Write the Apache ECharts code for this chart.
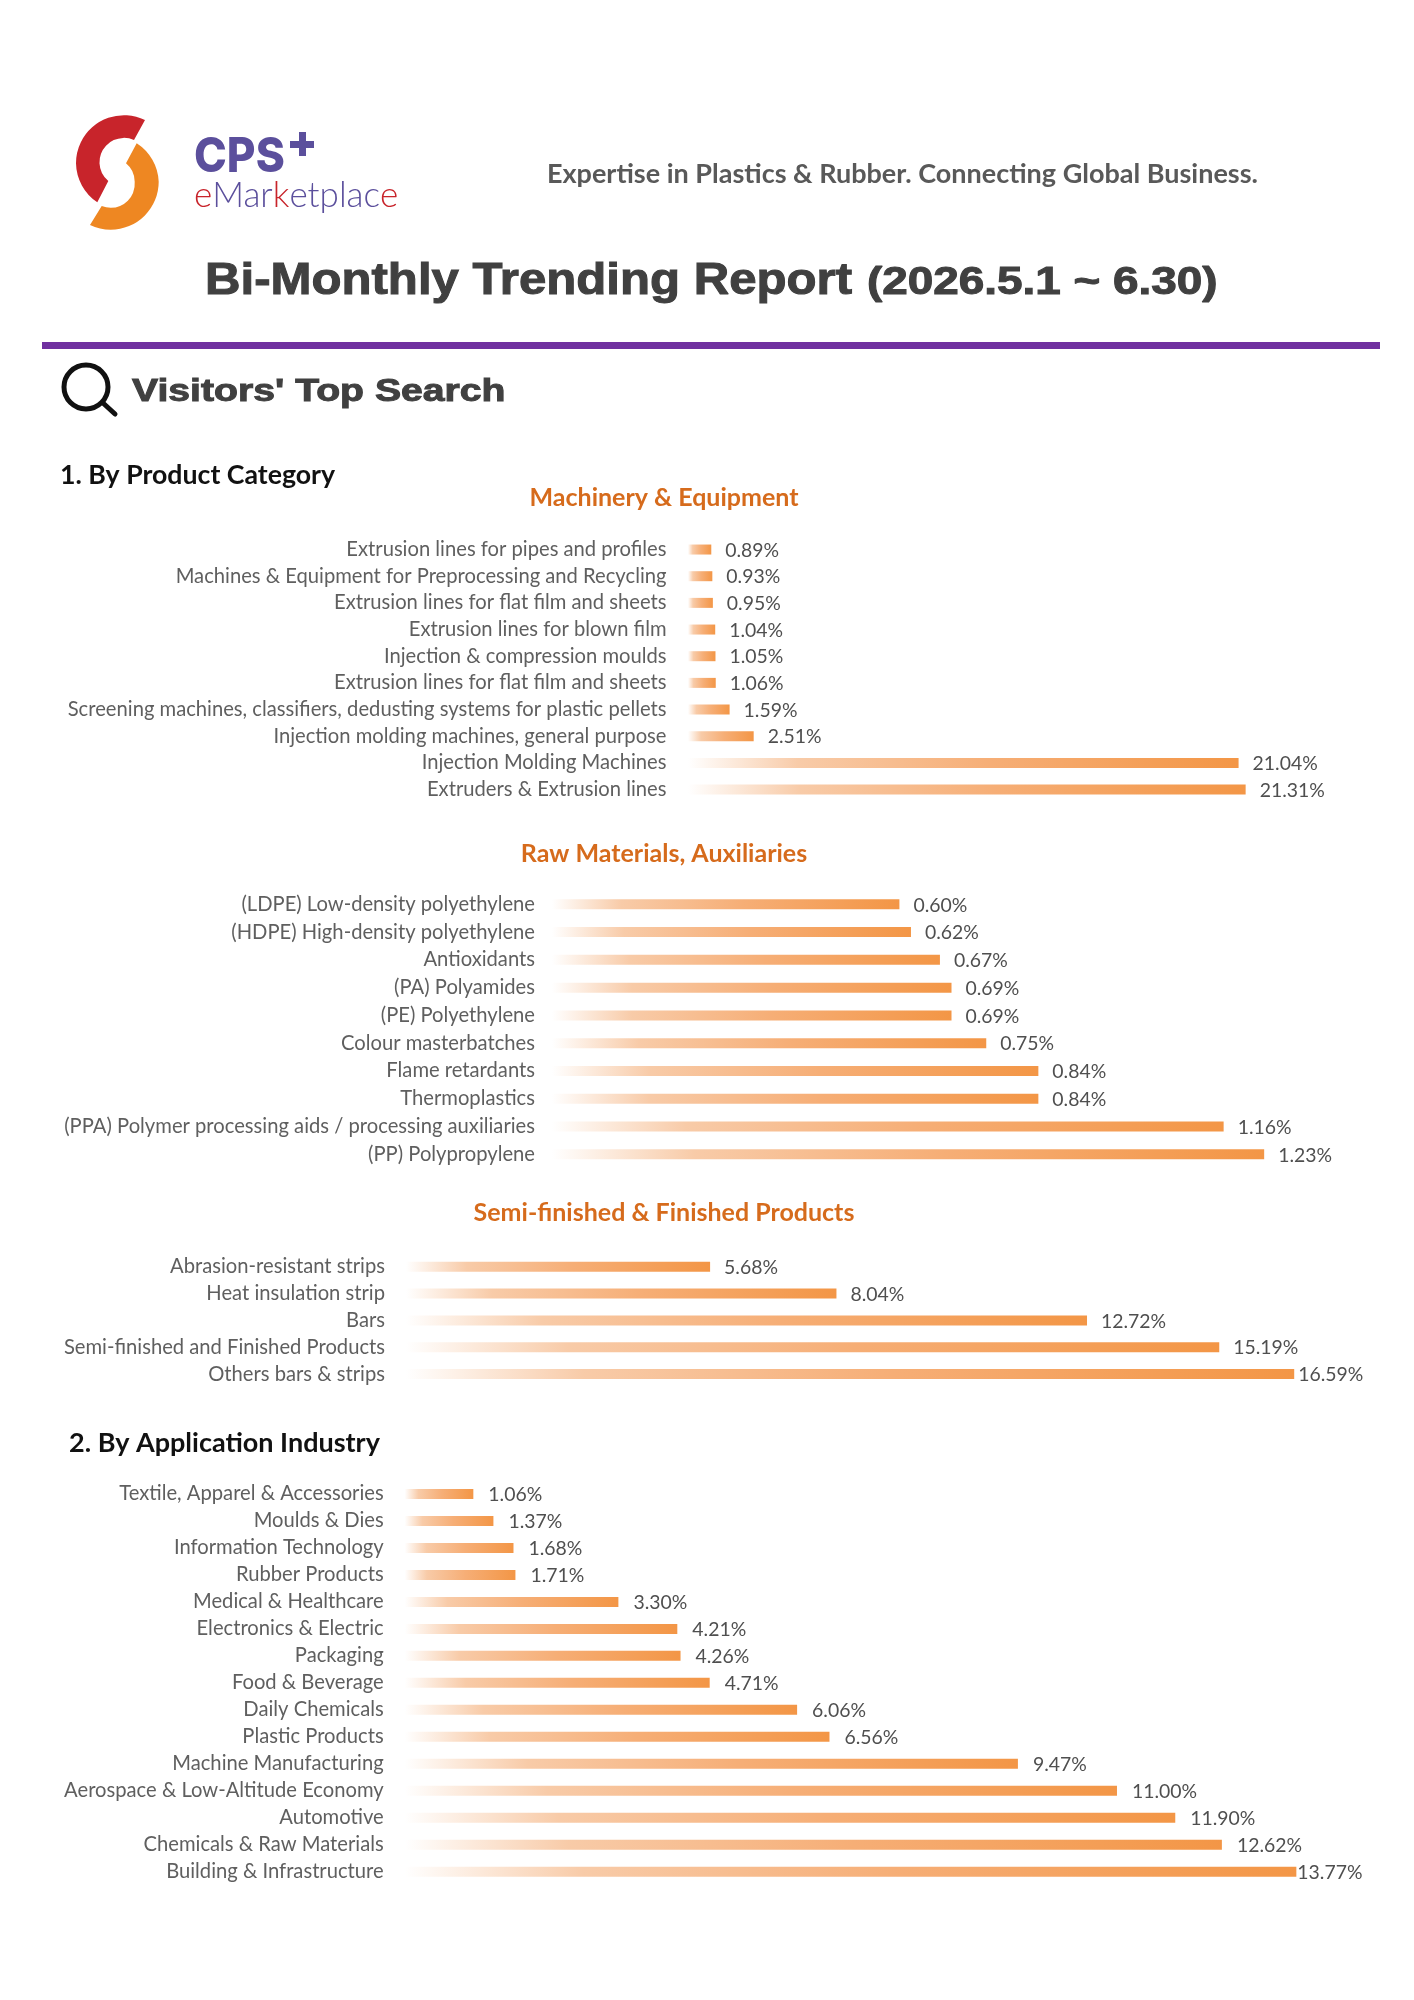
<!DOCTYPE html>
<html>
<head>
<meta charset="utf-8">
<style>html,body{margin:0;padding:0;background:#fff}#chart{width:1414px;height:2000px}</style>
<script src="https://cdn.jsdelivr.net/npm/echarts@6/dist/echarts.min.js"></script>
</head>
<body>
<div id="chart"></div>
<script>
const machineryCategories = ["Extrusion lines for pipes and profiles","Machines & Equipment for Preprocessing and Recycling","Extrusion lines for flat film and sheets","Extrusion lines for blown film","Injection & compression moulds","Extrusion lines for flat film and sheets","Screening machines, classifiers, dedusting systems for plastic pellets","Injection molding machines, general purpose","Injection Molding Machines","Extruders & Extrusion lines"];
const machineryValues = [0.89,0.93,0.95,1.04,1.05,1.06,1.59,2.51,21.04,21.31];
const rawCategories = ["(LDPE) Low-density polyethylene","(HDPE) High-density polyethylene","Antioxidants","(PA) Polyamides","(PE) Polyethylene","Colour masterbatches","Flame retardants","Thermoplastics","(PPA) Polymer processing aids / processing auxiliaries","(PP) Polypropylene"];
const rawValues = [0.60,0.62,0.67,0.69,0.69,0.75,0.84,0.84,1.16,1.23];
const semiCategories = ["Abrasion-resistant strips","Heat insulation strip","Bars","Semi-finished and Finished Products","Others bars & strips"];
const semiValues = [5.68,8.04,12.72,15.19,16.59];
const industryCategories = ["Textile, Apparel & Accessories","Moulds & Dies","Information Technology","Rubber Products","Medical & Healthcare","Electronics & Electric","Packaging","Food & Beverage","Daily Chemicals","Plastic Products","Machine Manufacturing","Aerospace & Low-Altitude Economy","Automotive","Chemicals & Raw Materials","Building & Infrastructure"];
const industryValues = [1.06,1.37,1.68,1.71,3.30,4.21,4.26,4.71,6.06,6.56,9.47,11.00,11.90,12.62,13.77];

const panels = [
  {cats:machineryCategories, vals:machineryValues, left:688,   width:575.7, max:22,  top:536.2,  height:266.7, margin:21.5, endGap:14},
  {cats:rawCategories,       vals:rawValues,       left:552,   width:752.7, max:1.3, top:890.4,  height:277.8, margin:17, endGap:14},
  {cats:semiCategories,      vals:semiValues,      left:406,   width:963.7, max:18,  top:1253.3, height:134.2, margin:21, endGap:14, maxGap:4},
  {cats:industryCategories,  vals:industryValues,  left:404.7, width:971.3, max:15,  top:1480.5, height:404.7, margin:21, endGap:15, maxGap:1}
];
const LABEL_FONT = 'Lato';
const barGradient = {type:'linear',x:0,y:0,x2:1,y2:0,colorStops:[
  {offset:0,color:'#ffffff'},{offset:0.2,color:'#f8cba8'},{offset:0.55,color:'#f6ae76'},{offset:1,color:'#f39646'}]};

echarts.graphic.registerShape('logoRed',echarts.graphic.extendPath('M145,120 A48,48 0 0 0 76,163.3 A48,48 0 0 0 97.3,202.3 L108.3,181 A24.5,24.5 0 0 1 99.5,163.3 A24.5,24.5 0 0 1 134,140 Z',{}));
echarts.graphic.registerShape('logoOrange',echarts.graphic.extendPath('M136.7,143.3 A48,48 0 0 1 158.7,181.7 A48,48 0 0 1 90,225 L101.7,206 A24,24 0 0 0 134.7,181.7 A24,24 0 0 0 126,163.3 Z',{}));

const grids=[],xAxes=[],yAxes=[],series=[];
panels.forEach((p,i)=>{
  grids.push({left:p.left,top:p.top,width:p.width,height:p.height,containLabel:false,show:false});
  xAxes.push({gridIndex:i,type:'value',min:0,max:p.max,show:false});
  yAxes.push({gridIndex:i,type:'category',inverse:true,data:p.cats,
    axisLine:{show:false},axisTick:{show:false},splitLine:{show:false},
    axisLabel:{show:true,interval:0,margin:p.margin,color:'#5f5f5f',fontFamily:LABEL_FONT,fontSize:20.2,align:'right'}});
  const top=Math.max(...p.vals);
  series.push({type:'bar',xAxisIndex:i,yAxisIndex:i,barWidth:10,itemStyle:{color:barGradient},silent:true,
    label:{show:true,position:'right',distance:p.endGap,offset:[0,1],color:'#4f4f4f',fontFamily:LABEL_FONT,fontSize:19.4,
      formatter:o=>o.value.toFixed(2)+'%'},
    data:p.vals.map(v=>(p.maxGap!==undefined&&v===top)?{value:v,label:{distance:p.maxGap}}:v)});
});

const txt=(text,x,y,size,weight,family,fill,align,extra,stretch)=>({type:'text',x:x,y:y,scaleX:stretch||1,style:Object.assign({text:text,fontSize:size,fontWeight:weight,fontFamily:family,fill:fill,align:align||'left',verticalAlign:'middle'},extra||{})});
const heavy={stroke:'#404040',lineWidth:1};
const graphic=[
  {type:'logoRed',style:{fill:'#c8242b'}},
  {type:'logoOrange',style:{fill:'#ee8722'}},
  txt('CPS',194,158,48,800,'Inter','#5b4f9c','left',null,0.92),
  {type:'rect',shape:{x:299,y:132,width:7,height:24},style:{fill:'#5b4f9c'}},
  {type:'rect',shape:{x:290,y:141,width:24,height:7},style:{fill:'#5b4f9c'}},
  {type:'text',x:194,y:196,style:{text:'{r|e}Mar{r|k}etplac{r|e}',fontSize:35,fontWeight:300,fontFamily:'Lato',fill:'#5b4f9c',verticalAlign:'middle',
     rich:{r:{fontSize:35,fontWeight:300,fontFamily:'Lato',fill:'#c8242b'}}}},
  txt('Expertise in Plastics & Rubber. Connecting Global Business.',547,174,27,700,'Lato','#595959'),
  txt('Bi-Monthly Trending Report',205,282,44,700,'Liberation Sans','#404040','left',heavy,1.117),
  txt('(2026.5.1 ~ 6.30)',867,284,38,700,'Liberation Sans','#404040','left',heavy,1.207),
  {type:'rect',shape:{x:42,y:342,width:1338,height:7},style:{fill:'#7030a0'}},
  {type:'circle',shape:{cx:86,cy:387,r:22},style:{fill:'none',stroke:'#111',lineWidth:5}},
  {type:'line',shape:{x1:103,y1:403,x2:115,y2:414},style:{stroke:'#111',lineWidth:5,lineCap:'round'}},
  txt("Visitors' Top Search",132,392,32,700,'Liberation Sans','#404040','left',heavy,1.224),
  txt('1. By Product Category',60,475,26.7,700,'Lato','#111111'),
  txt('Machinery & Equipment',664,497.5,25,700,'Lato','#d66b1c','center'),
  txt('Raw Materials, Auxiliaries',664,853.5,25,700,'Lato','#d66b1c','center'),
  txt('Semi-finished & Finished Products',664,1212.5,25,700,'Lato','#d66b1c','center'),
  txt('2. By Application Industry',69,1443,27,700,'Lato','#111111')
];

const chart=echarts.init(document.getElementById('chart'),null,{renderer:'canvas',width:1414,height:2000});
chart.setOption({animation:false,backgroundColor:'#ffffff',grid:grids,xAxis:xAxes,yAxis:yAxes,series:series,graphic:graphic});
</script>
</body>
</html>
